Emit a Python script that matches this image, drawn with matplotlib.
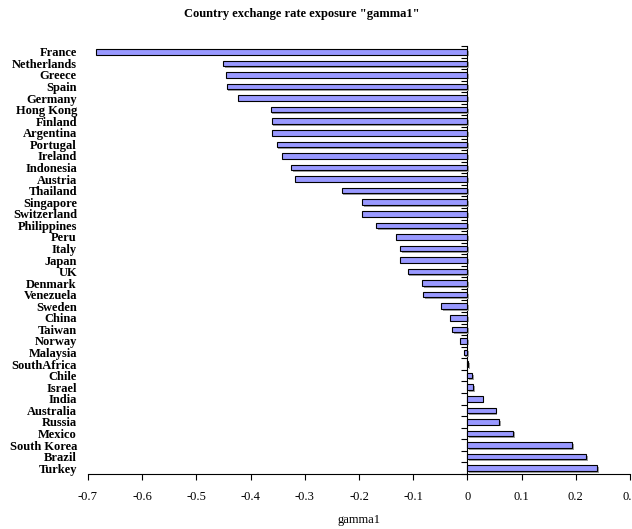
import matplotlib
matplotlib.use("Agg")
import matplotlib.pyplot as plt
import matplotlib.transforms as mtransforms
from matplotlib.ticker import FuncFormatter, FixedLocator, NullFormatter

plt.rcParams["font.family"] = ["Liberation Serif", "DejaVu Serif"]
plt.rcParams["font.size"] = 9
plt.rcParams["axes.unicode_minus"] = False

# 数据
countries = ["France", "Netherlands", "Greece", "Spain", "Germany", "Hong Kong",
             "Finland", "Argentina", "Portugal", "Ireland", "Indonesia", "Austria",
             "Thailand", "Singapore", "Switzerland", "Philippines", "Peru", "Italy",
             "Japan", "UK", "Denmark", "Venezuela", "Sweden", "China", "Taiwan",
             "Norway", "Malaysia", "SouthAfrica", "Chile", "Israel", "India",
             "Australia", "Russia", "Mexico", "South Korea", "Brazil", "Turkey"]
gamma1 = [-0.685, -0.451, -0.445, -0.444, -0.424, -0.363,
          -0.361, -0.360, -0.352, -0.342, -0.325, -0.319,
          -0.232, -0.194, -0.194, -0.168, -0.131, -0.124,
          -0.124, -0.110, -0.084, -0.081, -0.049, -0.033, -0.028,
          -0.014, -0.007, 0.002, 0.009, 0.011, 0.028,
          0.052, 0.058, 0.085, 0.193, 0.219, 0.239]
xticks = [-0.7, -0.6, -0.5, -0.4, -0.3, -0.2, -0.1, 0, 0.1, 0.2, 0.3]

n = len(countries)
ypos = [n - 1 - i for i in range(n)]

fig = plt.figure(figsize=(6.32, 5.29), dpi=100)
ax = fig.add_axes([88 / 632, 1 - 474 / 529, 542 / 632, 428 / 529])

# 阴影
shadow = ax.transData + mtransforms.ScaledTranslation(1.2 / 72, -1.2 / 72, fig.dpi_scale_trans)
ax.barh(ypos, gamma1, height=0.48, color="#a0a0a0", edgecolor="none",
        transform=shadow, zorder=1)
ax.barh(ypos, gamma1, height=0.48, color="#9999ff", edgecolor="black",
        linewidth=0.8, zorder=2)

ax.set_xlim(-0.7, 0.3)
ax.set_ylim(-0.5, n - 0.5)
ax.set_xticks(xticks)
ax.xaxis.set_major_formatter(FuncFormatter(lambda v, p: "0" if abs(v) < 1e-9 else "%.1f" % v))
ax.tick_params(axis="x", direction="out", length=4, width=0.8, pad=8)

ax.set_yticks(ypos)
ax.set_yticklabels(countries, fontweight="bold")
ax.tick_params(axis="y", length=0, pad=8)

for s in ["top", "right", "left"]:
    ax.spines[s].set_visible(False)
ax.spines["bottom"].set_linewidth(0.8)

# x=0 处的纵轴线和刻度
sec = ax.secondary_yaxis(0.7)
sec.yaxis.set_major_locator(FixedLocator([k - 0.5 for k in range(n + 1)]))
sec.yaxis.set_major_formatter(NullFormatter())
sec.yaxis.set_ticks_position("left")
sec.tick_params(axis="y", direction="out", length=4, width=0.8,
                labelleft=False, labelright=False)
sec.spines["left"].set_linewidth(0.8)

ax.set_xlabel("gamma1", labelpad=8)
fig.text(302 / 632, 1 - 14 / 529, 'Country exchange rate exposure "gamma1"',
         ha="center", va="center", fontweight="bold")

fig.savefig("out.png", dpi=100)
